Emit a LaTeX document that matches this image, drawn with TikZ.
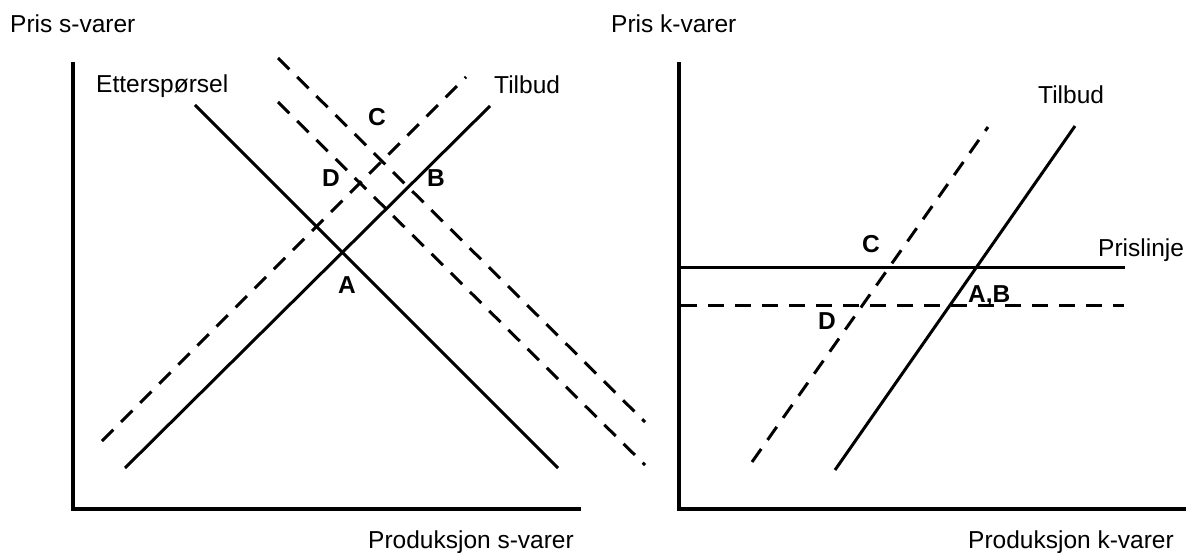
\documentclass[tikz,border=0pt]{standalone}
\usepackage{fontspec}
\setmainfont{Liberation Sans}
\begin{document}
\begin{tikzpicture}[x=1pt,y=-1pt,
  lbl/.style={inner sep=0pt,anchor=base west,font=\fontsize{24.5}{29}\selectfont},
  pt/.style={lbl,font=\fontsize{24.5}{29}\selectfont\bfseries},
  axis/.style={line width=4pt,line cap=rect},
  curve/.style={line width=3pt,line cap=butt},
  dcurve/.style={line width=3pt,line cap=butt,dash pattern=on 16pt off 11pt}]
\useasboundingbox (0,0) rectangle (1186,553);
% ---------- left panel ----------
\coordinate (lo) at (73,509);
\coordinate (ltop) at (73,64);
\coordinate (lright) at (579,509);
\draw[axis] (ltop) -- (lo) -- (lright);
\coordinate (d1) at (195,105); \coordinate (d2) at (558,468);
\draw[curve] (d1) -- (d2);
\coordinate (s1) at (125,468); \coordinate (s2) at (490,106);
\draw[curve] (s1) -- (s2);
\coordinate (ds1) at (102,441); \coordinate (ds2) at (466,77);
\draw[dcurve] (ds1) -- (ds2);
\coordinate (dd1) at (278,58); \coordinate (dd2) at (645,422);
\draw[dcurve] (dd1) -- (dd2);
\coordinate (de1) at (278,102); \coordinate (de2) at (645,465);
\draw[dcurve] (de1) -- (de2);
\node[lbl] (prisS) at (10,33) {Pris s-varer};
\node[lbl] (prodS) at (368,548) {Produksjon s-varer};
\node[lbl] (ett) at (96,93) {Etterspørsel};
\node[lbl] (tilL) at (494,94) {Tilbud};
\node[pt] (CL) at (368,126) {C};
\node[pt] (DL) at (322,187) {D};
\node[pt] (BL) at (427,187) {B};
\node[pt] (AL) at (338,294) {A};
% ---------- right panel ----------
\coordinate (ro) at (679,509);
\coordinate (rtop) at (679,64);
\coordinate (rright) at (1190,509);
\draw[axis] (rtop) -- (ro) -- (rright);
\coordinate (p1) at (679,268); \coordinate (p2) at (1125,268);
\draw[curve] (p1) -- (p2);
\coordinate (q1) at (681,306); \coordinate (q2) at (1124,306);
\draw[dcurve] (q1) -- (q2);
\coordinate (r1) at (835,470); \coordinate (r2) at (1075,126);
\draw[curve] (r1) -- (r2);
\coordinate (rd1) at (752,462); \coordinate (rd2) at (988,127);
\draw[dcurve] (rd1) -- (rd2);
\node[lbl] (prisK) at (611,33) {Pris k-varer};
\node[lbl] (prodK) at (968,548) {Produksjon k-varer};
\node[lbl] (tilR) at (1038,104) {Tilbud};
\node[lbl] (pris) at (1098,257) {Prislinje};
\node[pt] (CR) at (862,253) {C};
\node[pt] (ABR) at (968,302) {A,B};
\node[pt] (DR) at (818,330) {D};
\end{tikzpicture}
\end{document}
